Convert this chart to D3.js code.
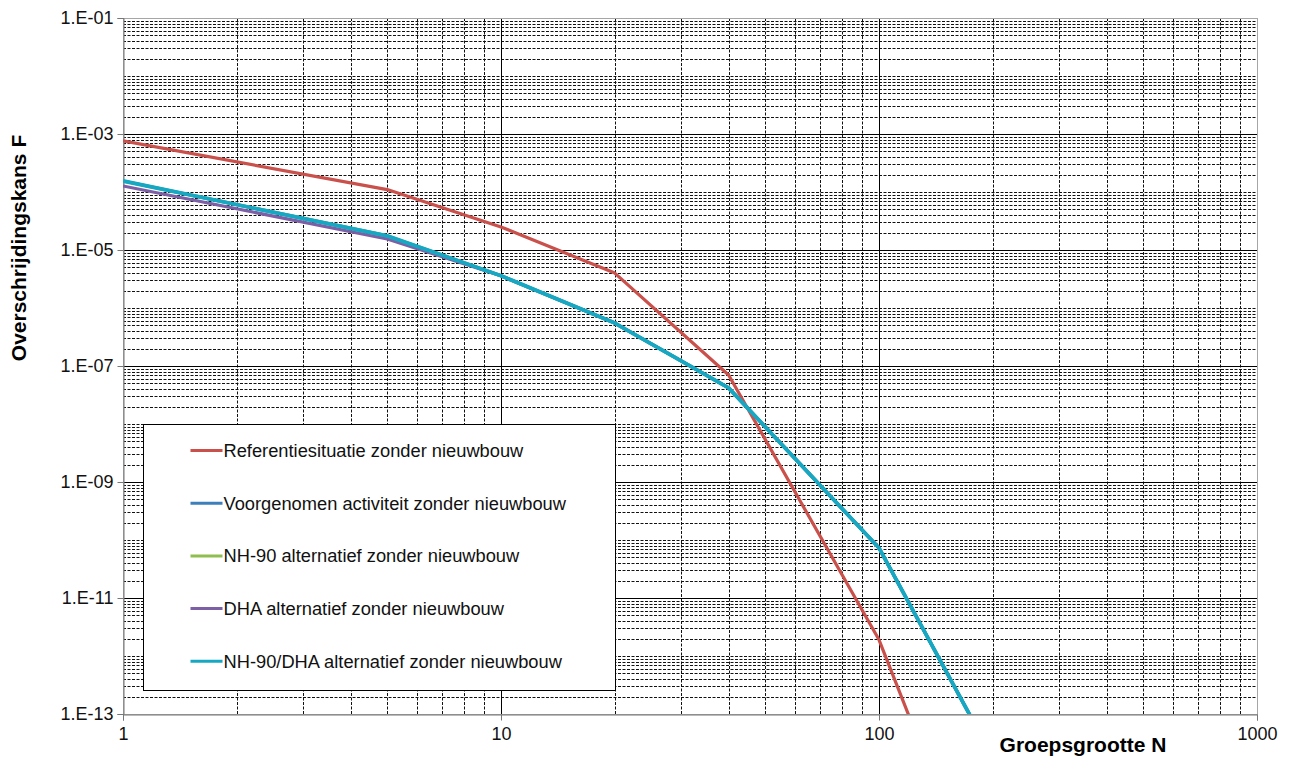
<!DOCTYPE html>
<html>
<head>
<meta charset="utf-8">
<script src="https://cdn.jsdelivr.net/npm/d3@7"></script>
<style>
  body { margin: 0; background: #fff; }
  svg { font-family: Arial, "Liberation Sans", sans-serif; }
</style>
</head>
<body>
<div id="chart"></div>
<script>
const groupSize = [1, 5, 10, 20, 40, 100, 200];
const referentie = [7.6e-4, 1.1e-4, 2.5e-5, 4.0e-6, 7.0e-8, 1.9e-12, 2e-17];
const voorgenomen = [1.55e-4, 1.75e-5, 3.6e-6, 5.5e-7, 4.2e-8, 7.3e-11, 1.8e-14];
const nh90 = [1.55e-4, 1.75e-5, 3.6e-6, 5.5e-7, 4.2e-8, 7.3e-11, 1.8e-14];
const dha = [1.27e-4, 1.55e-5, 3.6e-6, 5.5e-7, 4.2e-8, 7.3e-11, 1.8e-14];
const nh90dha = [1.55e-4, 1.75e-5, 3.6e-6, 5.5e-7, 4.2e-8, 7.3e-11, 1.8e-14];

const seriesNames = [
  'Referentiesituatie zonder nieuwbouw',
  'Voorgenomen activiteit zonder nieuwbouw',
  'NH-90 alternatief zonder nieuwbouw',
  'DHA alternatief zonder nieuwbouw',
  'NH-90/DHA alternatief zonder nieuwbouw'
];
const seriesValues = [referentie, voorgenomen, nh90, dha, nh90dha];
const seriesColors = ['#c9504b', '#3d7fbd', '#8fbd4f', '#7d5fa5', '#16a8c2'];

const yLabelExps = [-1, -3, -5, -7, -9, -11, -13];
const xLabels = [1, 10, 100, 1000];

const width = 1292, height = 758;
const margin = { left: 123, right: 35, top: 18, bottom: 44 };
const innerW = width - margin.left - margin.right;
const innerH = height - margin.top - margin.bottom;

const svg = d3.select('#chart').append('svg')
  .attr('width', width)
  .attr('height', height);

const x = d3.scaleLog().domain([1, 1000]).range([margin.left, margin.left + innerW]);
const y = d3.scaleLog().domain([1e-13, 1e-1]).range([margin.top + innerH, margin.top]);

svg.append('defs').append('clipPath').attr('id', 'plot-clip')
  .append('rect')
  .attr('x', margin.left).attr('y', margin.top)
  .attr('width', innerW).attr('height', innerH);

// grid lines: dashed minor, solid on labelled decades
const grid = svg.append('g');
const yMinor = [], yMajor = [];
for (let e = -13; e < -1; e++) {
  for (let m = 1; m <= 9; m++) {
    const v = m * Math.pow(10, e);
    if (m === 1 && yLabelExps.includes(e)) yMajor.push(v);
    else yMinor.push(v);
  }
}
const xMinor = [], xMajor = [1, 10, 100];
for (let e = 0; e < 3; e++) {
  for (let m = 2; m <= 9; m++) xMinor.push(m * Math.pow(10, e));
}

grid.selectAll('line.ymin').data(yMinor).join('line')
  .attr('x1', margin.left).attr('x2', margin.left + innerW)
  .attr('y1', d => Math.round(y(d)) + 0.5).attr('y2', d => Math.round(y(d)) + 0.5)
  .attr('stroke', '#111').attr('stroke-width', 1).attr('stroke-dasharray', '3,1.5');
grid.selectAll('line.xmin').data(xMinor).join('line')
  .attr('y1', margin.top).attr('y2', margin.top + innerH)
  .attr('x1', d => Math.round(x(d)) + 0.5).attr('x2', d => Math.round(x(d)) + 0.5)
  .attr('stroke', '#111').attr('stroke-width', 1).attr('stroke-dasharray', '3,1.5');
grid.selectAll('line.ymaj').data(yMajor).join('line')
  .attr('x1', margin.left).attr('x2', margin.left + innerW)
  .attr('y1', d => Math.round(y(d)) + 0.5).attr('y2', d => Math.round(y(d)) + 0.5)
  .attr('stroke', '#000').attr('stroke-width', 1);
grid.selectAll('line.xmaj').data(xMajor).join('line')
  .attr('y1', margin.top).attr('y2', margin.top + innerH)
  .attr('x1', d => Math.round(x(d)) + 0.5).attr('x2', d => Math.round(x(d)) + 0.5)
  .attr('stroke', '#000').attr('stroke-width', 1);

svg.append('rect')
  .attr('x', margin.left + 0.5).attr('y', margin.top + 0.5)
  .attr('width', innerW).attr('height', innerH)
  .attr('fill', 'none').attr('stroke', '#a6a6a6');

// axes
const yAxis = d3.axisLeft(y)
  .tickValues(yLabelExps.map(e => Math.pow(10, e)))
  .tickFormat(d => '1.E-' + String(-Math.round(Math.log10(d))).padStart(2, '0'))
  .tickSize(6).tickPadding(4);
const gy = svg.append('g').attr('transform', `translate(${margin.left + 0.5},0)`).call(yAxis);
gy.select('.domain').attr('stroke', '#777');
gy.selectAll('.tick line').attr('stroke', '#777');
gy.selectAll('.tick text').attr('font-size', 18).attr('fill', '#111');

const xAxis = d3.axisBottom(x)
  .tickValues(xLabels)
  .tickFormat(d3.format('d'))
  .tickSize(6).tickPadding(7);
const gx = svg.append('g').attr('transform', `translate(0,${margin.top + innerH + 0.5})`).call(xAxis);
gx.select('.domain').attr('stroke', '#777');
gx.selectAll('.tick line').attr('stroke', '#777');
gx.selectAll('.tick text').attr('font-size', 18).attr('fill', '#111');

// series lines
const line = d3.line()
  .x(d => x(d[0]))
  .y(d => y(d[1]));
const lines = svg.append('g').attr('clip-path', 'url(#plot-clip)');
seriesValues.forEach((vals, i) => {
  lines.append('path')
    .datum(groupSize.map((n, j) => [n, vals[j]]))
    .attr('d', line)
    .attr('fill', 'none')
    .attr('stroke', seriesColors[i])
    .attr('stroke-width', i === 4 ? 3.8 : 3.2)
    .attr('stroke-linejoin', 'round');
});

// legend
const legend = svg.append('g').attr('transform', 'translate(143.5,424.5)');
legend.append('rect')
  .attr('width', 472).attr('height', 266)
  .attr('fill', '#fff').attr('stroke', '#000');
const items = legend.selectAll('g.item').data(seriesNames).join('g')
  .attr('transform', (d, i) => `translate(0,${26 + i * 52.7})`);
items.append('line')
  .attr('x1', 47).attr('x2', 79)
  .attr('stroke', (d, i) => seriesColors[i]).attr('stroke-width', 3);
items.append('text')
  .attr('x', 80).attr('dy', '0.35em')
  .attr('font-size', 18.3).attr('fill', '#111')
  .text(d => d);

// axis titles
svg.append('text')
  .attr('x', 1083).attr('y', 752)
  .attr('text-anchor', 'middle')
  .attr('font-size', 21).attr('font-weight', 'bold')
  .text('Groepsgrootte N');
svg.append('text')
  .attr('transform', 'translate(26,248) rotate(-90)')
  .attr('text-anchor', 'middle')
  .attr('font-size', 21).attr('font-weight', 'bold')
  .text('Overschrijdingskans F');
</script>
</body>
</html>
